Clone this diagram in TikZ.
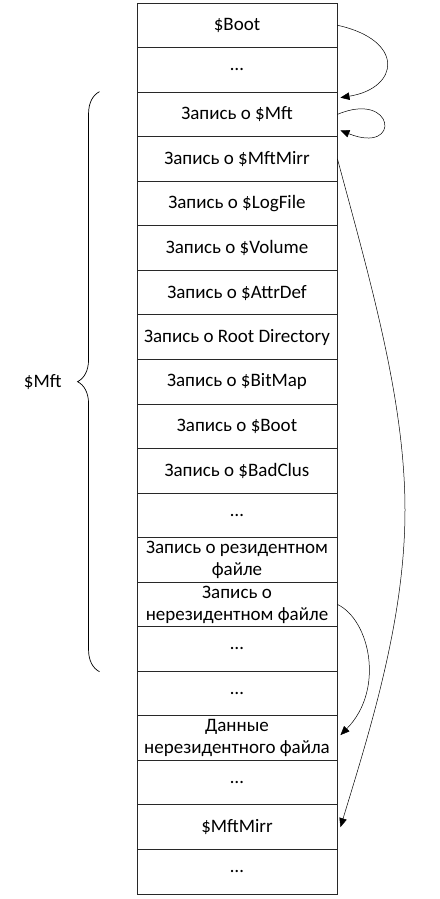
\documentclass[tikz,border=0pt]{standalone}
\usepackage{fontspec}
\setmainfont{Carlito}
\usetikzlibrary{arrows.meta,decorations.pathreplacing}
\definecolor{rowLine}{RGB}{40,40,40}

\begin{document}
\begin{tikzpicture}[x=1pt,y=-1pt,
  row/.style={draw=rowLine,line width=0.9pt,minimum width=200pt,minimum height=44.55pt,
    inner sep=0pt,align=center,font=\fontsize{19}{22}\selectfont},
  link/.style={line width=0.5pt,-{Triangle[length=9pt,width=7.5pt]}}]
  \useasboundingbox (0,0) rectangle (439,899);
  % Column of records
  \foreach \txt [count=\i] in {\$Boot, …, Запись о \$Mft, Запись о \$MftMirr,
      Запись о \$LogFile, Запись о \$Volume, Запись о \$AttrDef,
      Запись о Root Directory, Запись о \$BitMap, Запись о \$Boot,
      Запись о \$BadClus, …, Запись о резидентном\\файле,
      Запись о\\нерезидентном файле, …, …, Данные\\нерезидентного файла,
      …, \$MftMirr, …}
    \node[row] (r\i) at (237,{3+44.55*(\i-0.5)}) {\txt};
  % Brace over the MFT records
  \draw[line width=0.7pt,decorate,decoration={brace,amplitude=22pt}]
    ([xshift=-37]r15.south west) -- ([xshift=-37]r3.north west);
  \node[anchor=east,font=\fontsize{19}{22}\selectfont] (mftlbl) at (65,382) {\$Mft};
  % Links
  \draw[link] (r1.east) .. controls (405,40) and (400,88) .. ([shift={(3,6)}]r3.north east);
  \draw[link] (r3.east) .. controls (395,90) and (402,155) .. ([shift={(3,16)}]r3.east);
  \draw[link] (r4.east) .. controls (370,280) and (405,400) .. (405,510)
    .. controls (405,620) and (370,730) .. ([xshift=3]r19.east);
  \draw[link] (r14.east) .. controls (370,620) and (385,690) .. ([shift={(3,-3)}]r17.east);
\end{tikzpicture}
\end{document}
